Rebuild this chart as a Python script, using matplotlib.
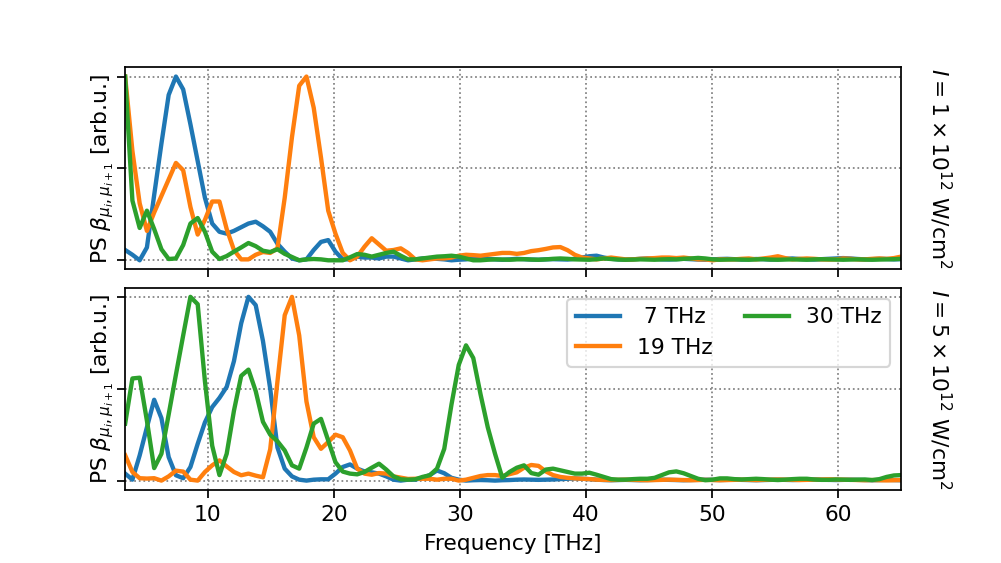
import numpy as np
import matplotlib
matplotlib.use("Agg")
import matplotlib.pyplot as plt

# frequency grid of the spectra [THz]
F0 = 3.45
DF = 0.575
N = 108
freq = F0 + DF * np.arange(N)

labels = [" 7 THz", "19 THz", "30 THz"]
intensity_labels = [r"$I = 1\times10^{12}$ W/cm$^2$", r"$I = 5\times10^{12}$ W/cm$^2$"]

# top panel, I = 1e12 W/cm^2
top_7 = [
    0.056, 0.03, 0.0, 0.07, 0.355, 0.635, 0.90, 1.0, 0.93, 0.74,
    0.54, 0.34, 0.20, 0.155, 0.145, 0.16, 0.18, 0.20, 0.21, 0.185,
    0.155, 0.09, 0.047, 0.01, 0.0, 0.005, 0.056, 0.10, 0.11, 0.047,
    0.005, 0.005, 0.02, 0.015, 0.015, 0.01, 0.02, 0.02, 0.01, 0.0,
    0.005, 0.01, 0.012, 0.008, 0.005, 0.0, 0.003, 0.005, 0.01, 0.012,
    0.008, 0.005, 0.003, 0.005, 0.008, 0.006, 0.004, 0.003, 0.005, 0.006,
    0.005, 0.004, 0.008, 0.015, 0.022, 0.025, 0.015, 0.008, 0.005, 0.003,
    0.005, 0.008, 0.01, 0.008, 0.005, 0.004, 0.006, 0.008, 0.006, 0.004,
    0.003, 0.005, 0.007, 0.008, 0.006, 0.004, 0.005, 0.007, 0.006, 0.004,
    0.005, 0.008, 0.01, 0.007, 0.005, 0.004, 0.006, 0.008, 0.01, 0.012,
    0.01, 0.007, 0.005, 0.006, 0.008, 0.007, 0.005, 0.006,
]
top_19 = [
    1.0, 0.595, 0.31, 0.16, 0.26, 0.35, 0.44, 0.53, 0.49, 0.29,
    0.14, 0.22, 0.32, 0.32, 0.17, 0.056, 0.005, 0.005, 0.03, 0.045,
    0.04, 0.065, 0.34, 0.67, 0.95, 1.0, 0.83, 0.56, 0.27, 0.145,
    0.04, 0.0, 0.02, 0.074, 0.12, 0.086, 0.052, 0.056, 0.065, 0.04,
    0.005, 0.0, 0.005, 0.01, 0.01, 0.015, 0.025, 0.03, 0.028, 0.025,
    0.03, 0.035, 0.04, 0.04, 0.035, 0.04, 0.05, 0.055, 0.062, 0.07,
    0.072, 0.055, 0.03, 0.015, 0.01, 0.005, 0.01, 0.015, 0.01, 0.005,
    0.005, 0.008, 0.01, 0.012, 0.015, 0.015, 0.012, 0.015, 0.01, 0.005,
    0.005, 0.0, 0.005, 0.005, 0.005, 0.008, 0.01, 0.005, 0.01, 0.015,
    0.022, 0.012, 0.005, 0.008, 0.01, 0.008, 0.005, 0.004, 0.005, 0.01,
    0.008, 0.005, 0.005, 0.008, 0.01, 0.008, 0.012, 0.02,
]
top_30 = [
    1.0, 0.325, 0.176, 0.27, 0.17, 0.06, 0.007, 0.01, 0.083, 0.20,
    0.23, 0.155, 0.047, 0.007, 0.023, 0.047, 0.07, 0.094, 0.077, 0.052,
    0.045, 0.06, 0.035, 0.018, 0.0, 0.005, 0.007, 0.005, 0.0, 0.0,
    0.0, 0.016, 0.034, 0.03, 0.02, 0.03, 0.04, 0.047, 0.025, 0.005,
    0.005, 0.01, 0.015, 0.02, 0.022, 0.025, 0.02, 0.01, 0.0, 0.0,
    0.003, 0.005, 0.004, 0.003, 0.005, 0.006, 0.004, 0.003, 0.005, 0.008,
    0.01, 0.008, 0.005, 0.004, 0.003, 0.006, 0.01, 0.007, 0.004, 0.003,
    0.004, 0.005, 0.004, 0.003, 0.005, 0.006, 0.005, 0.008, 0.01, 0.013,
    0.01, 0.005, 0.003, 0.004, 0.005, 0.004, 0.003, 0.005, 0.006, 0.004,
    0.003, 0.004, 0.005, 0.004, 0.003, 0.005, 0.006, 0.005, 0.004, 0.003,
    0.004, 0.005, 0.004, 0.003, 0.004, 0.005, 0.006, 0.008,
]

# bottom panel, I = 5e12 W/cm^2
bot_7 = [
    0.038, 0.005, 0.137, 0.29, 0.44, 0.34, 0.128, 0.029, 0.013, 0.074,
    0.20, 0.317, 0.40, 0.45, 0.51, 0.65, 0.856, 1.0, 0.955, 0.76,
    0.50, 0.18, 0.065, 0.023, 0.005, 0.0, 0.005, 0.007, 0.007, 0.038,
    0.074, 0.088, 0.065, 0.05, 0.045, 0.038, 0.023, 0.005, 0.0, 0.005,
    0.005, 0.015, 0.03, 0.055, 0.04, 0.015, 0.005, 0.0, 0.002, 0.003,
    0.002, 0.0, 0.002, 0.003, 0.005, 0.006, 0.005, 0.004, 0.005, 0.006,
    0.008, 0.01, 0.012, 0.01, 0.008, 0.005, 0.003, 0.002, 0.003, 0.004,
    0.003, 0.002, 0.003, 0.004, 0.005, 0.004, 0.003, 0.002, 0.003, 0.004,
    0.005, 0.004, 0.003, 0.004, 0.005, 0.004, 0.003, 0.002, 0.003, 0.004,
    0.005, 0.004, 0.003, 0.004, 0.005, 0.006, 0.005, 0.004, 0.003, 0.004,
    0.005, 0.004, 0.003, 0.002, 0.003, 0.004, 0.003, 0.002,
]
bot_19 = [
    0.138, 0.047, 0.013, 0.011, 0.013, 0.0, 0.023, 0.054, 0.049, 0.005,
    0.0, 0.047, 0.083, 0.11, 0.077, 0.047, 0.029, 0.038, 0.027, 0.018,
    0.17, 0.54, 0.90, 1.0, 0.79, 0.43, 0.236, 0.173, 0.21, 0.25,
    0.236, 0.164, 0.065, 0.038, 0.032, 0.041, 0.038, 0.023, 0.016, 0.009,
    0.01, 0.01, 0.01, 0.005, 0.01, 0.01, 0.0, 0.005, 0.015, 0.025,
    0.03, 0.03, 0.025, 0.035, 0.045, 0.07, 0.085, 0.08, 0.05, 0.03,
    0.02, 0.015, 0.012, 0.01, 0.008, 0.005, 0.004, 0.003, 0.004, 0.005,
    0.004, 0.003, 0.002, 0.003, 0.004, 0.005, 0.004, 0.003, 0.002, 0.003,
    0.004, 0.003, 0.002, 0.003, 0.004, 0.005, 0.004, 0.003, 0.004, 0.005,
    0.006, 0.005, 0.004, 0.003, 0.004, 0.005, 0.006, 0.007, 0.006, 0.005,
    0.004, 0.003, 0.002, 0.003, 0.002, 0.001, 0.002, 0.003,
]
bot_30 = [
    0.31, 0.556, 0.56, 0.326, 0.068, 0.146, 0.36, 0.577, 0.79, 1.0,
    0.96, 0.54, 0.19, 0.03, 0.146, 0.38, 0.57, 0.604, 0.487, 0.32,
    0.25, 0.214, 0.164, 0.083, 0.065, 0.18, 0.31, 0.336, 0.218, 0.10,
    0.049, 0.038, 0.034, 0.047, 0.07, 0.092, 0.06, 0.023, 0.007, 0.005,
    0.007, 0.02, 0.029, 0.065, 0.173, 0.415, 0.63, 0.736, 0.667, 0.47,
    0.29, 0.146, 0.016, 0.047, 0.07, 0.083, 0.041, 0.032, 0.06, 0.065,
    0.056, 0.047, 0.038, 0.038, 0.043, 0.032, 0.02, 0.008, 0.005, 0.005,
    0.008, 0.01, 0.01, 0.015, 0.03, 0.045, 0.05, 0.04, 0.025, 0.01,
    0.002, 0.005, 0.012, 0.012, 0.008, 0.006, 0.008, 0.01, 0.008, 0.005,
    0.003, 0.005, 0.008, 0.01, 0.01, 0.006, 0.004, 0.004, 0.006, 0.005,
    0.004, 0.005, 0.006, 0.003, 0.008, 0.02, 0.028, 0.03,
]

panels = [(top_7, top_19, top_30), (bot_7, bot_19, bot_30)]

fig, axes = plt.subplots(2, 1, sharex=True, figsize=(6.4, 3.6), dpi=156.45)
fig.subplots_adjust(bottom=0.13, hspace=0.09)

for ax, series, ilabel in zip(axes, panels, intensity_labels):
    for vals, lab in zip(series, labels):
        ax.plot(freq, vals, lw=2.0, label=lab)
    ax.set_xlim(freq[0], freq[-1])
    ax.set_yticks([0.0, 0.5, 1.0])
    ax.set_yticklabels([])
    ax.grid(True, ls=":", color="gray")
    ax.set_ylabel(r"PS $\beta_{\mu_i,\mu_{i+1}}$ [arb.u.]", labelpad=-3)
    ax.text(1.05, 0.5, ilabel, transform=ax.transAxes, rotation=270,
            ha="center", va="center")

axes[1].legend(loc="upper right", ncol=2, columnspacing=1.5)
axes[1].set_xlabel("Frequency [THz]")

fig.savefig("out.png")
